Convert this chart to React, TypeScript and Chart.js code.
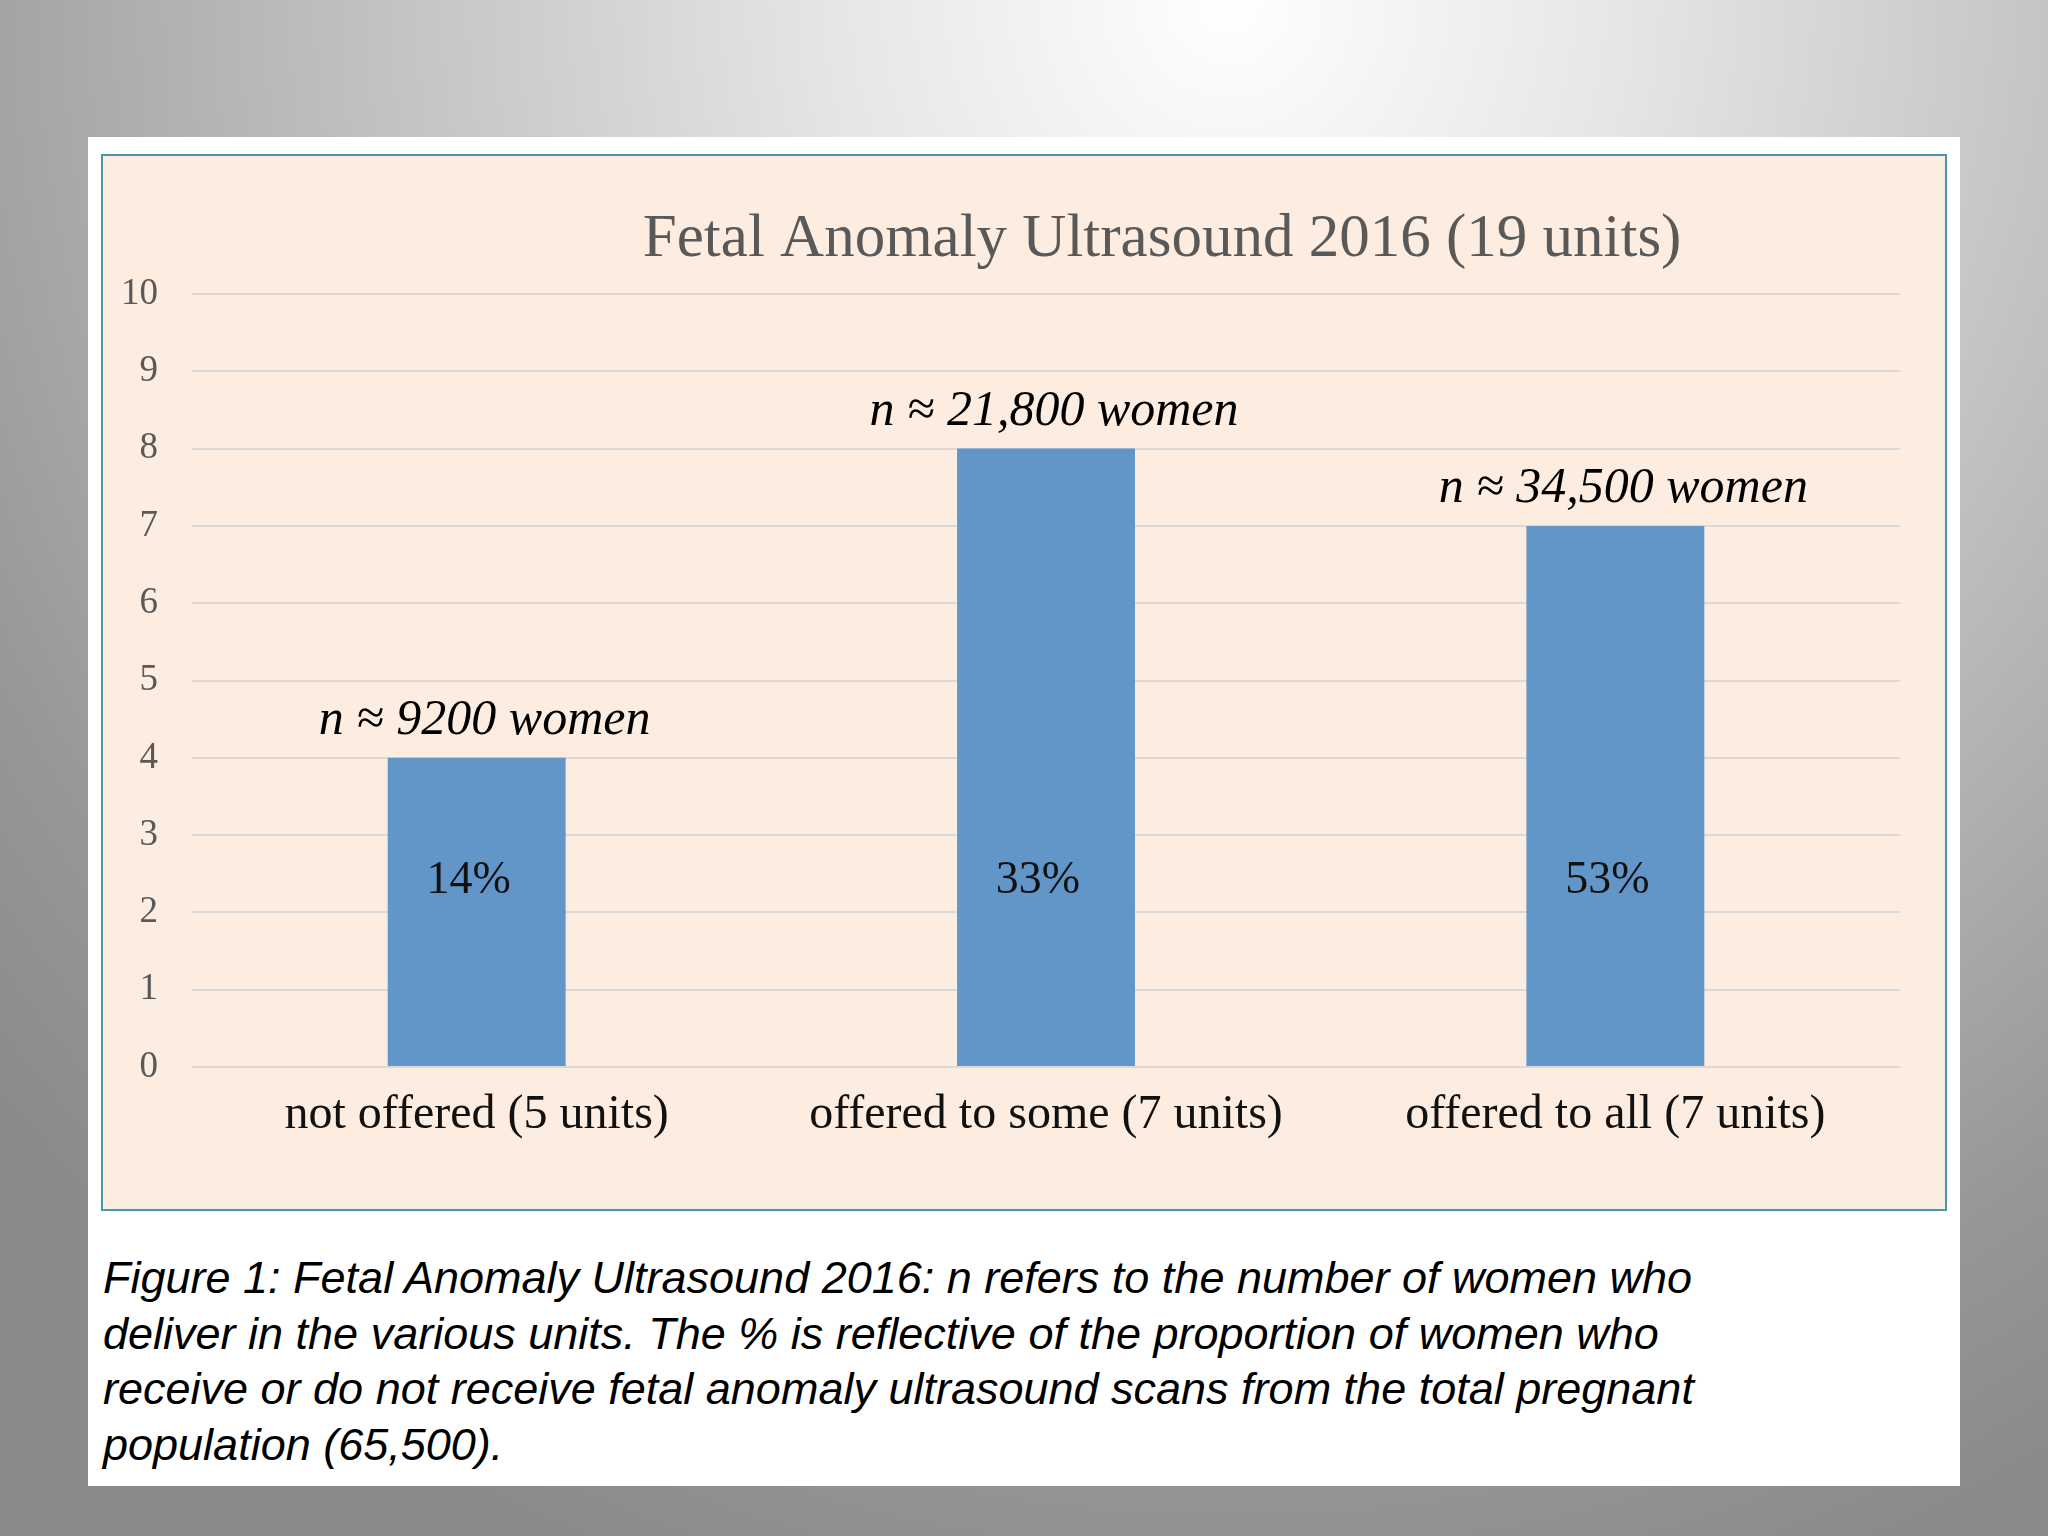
import React, { useEffect, useRef } from 'react';
import { Chart, registerables } from 'chart.js';

Chart.register(...registerables);

const chartTitle = 'Fetal Anomaly Ultrasound 2016 (19 units)';
const categories = ['not offered (5 units)', 'offered to some (7 units)', 'offered to all (7 units)'];
const unitCounts = [4, 8, 7];
const womenLabels = ['n ≈ 9200 women', 'n ≈ 21,800 women', 'n ≈ 34,500 women'];
const percentLabels = ['14%', '33%', '53%'];
const yMin = 0;
const yMax = 10;
const yStep = 1;
const captionLines = [
  'Figure 1: Fetal Anomaly Ultrasound 2016: n refers to the number of women who',
  'deliver in the various units. The % is reflective of the proportion of women who',
  'receive or do not receive fetal anomaly ultrasound scans from the total pregnant',
  'population (65,500).',
];

const SERIF = '"Liberation Serif", "DejaVu Serif", serif';
const SANS = '"Liberation Sans", Arial, sans-serif';

const annotatePlugin = {
  id: 'annotate',
  afterDatasetsDraw(chart: any) {
    const { ctx, chartArea } = chart;
    const meta = chart.getDatasetMeta(0);
    const yScale = chart.scales.y;
    ctx.save();
    ctx.textAlign = 'center';
    ctx.textBaseline = 'alphabetic';
    meta.data.forEach((bar: any, i: number) => {
      const { x, y } = bar.getProps(['x', 'y'], true);
      ctx.fillStyle = '#000000';
      ctx.font = `italic 50px ${SERIF}`;
      ctx.fillText(womenLabels[i], x + 8, y - 24);
      ctx.fillStyle = '#111111';
      ctx.font = `46px ${SERIF}`;
      ctx.fillText(percentLabels[i], x - 8, yScale.getPixelForValue(2.25));
    });
    ctx.fillStyle = '#595959';
    ctx.font = `61px ${SERIF}`;
    ctx.fillText(chartTitle, chartArea.left + chartArea.width * 0.568, chartArea.top - 38);
    ctx.restore();
  },
};

function FetalChart() {
  const ref = useRef<HTMLCanvasElement | null>(null);
  useEffect(() => {
    if (!ref.current) return;
    const chart = new Chart(ref.current, {
      type: 'bar',
      data: {
        labels: categories,
        datasets: [
          {
            data: unitCounts,
            backgroundColor: '#6296C9',
            borderWidth: 0,
            barPercentage: 0.3125,
            categoryPercentage: 1,
          },
        ],
      },
      options: {
        animation: false,
        responsive: false,
        devicePixelRatio: 1,
        layout: { padding: { top: 138, right: 45, left: 0, bottom: 0 } },
        plugins: {
          legend: { display: false },
          title: { display: false },
          tooltip: { enabled: false },
        },
        scales: {
          x: {
            grid: { display: false },
            border: { display: false },
            ticks: {
              color: '#111111',
              font: { family: SERIF, size: 48 },
              padding: 12,
              maxRotation: 0,
              autoSkip: false,
            },
            afterFit: (scale: any) => {
              scale.height = 142;
            },
          },
          y: {
            min: yMin,
            max: yMax,
            grid: { color: '#D9D9D9', lineWidth: 2, drawTicks: false },
            border: { display: false },
            ticks: {
              stepSize: yStep,
              color: '#595959',
              font: { family: SERIF, size: 37 },
              padding: 34,
            },
            afterFit: (scale: any) => {
              scale.width = 89;
            },
          },
        },
      },
      plugins: [annotatePlugin],
    });
    return () => chart.destroy();
  }, []);
  return <canvas ref={ref} width={1842} height={1053} style={{ display: 'block', width: 1842, height: 1053 }} />;
}

export default function App() {
  return (
    <div
      style={{
        position: 'absolute',
        left: 0,
        top: 0,
        width: 2048,
        height: 1536,
        overflow: 'hidden',
        background:
          'radial-gradient(ellipse 80% 110% at 60% 0%, #ffffff 0%, #e6e6e6 24%, #bebebe 55%, #979797 85%, #8a8a8a 100%)',
      }}
    >
      <div style={{ position: 'absolute', left: 88, top: 137, width: 1872, height: 1349, background: '#ffffff' }} />
      <div
        style={{
          position: 'absolute',
          left: 101,
          top: 154,
          width: 1842,
          height: 1053,
          border: '2px solid #4A98A6',
          background: '#FDEDE1',
        }}
      >
        <FetalChart />
      </div>
      <div
        style={{
          position: 'absolute',
          left: 103,
          top: 1250,
          fontFamily: SANS,
          fontStyle: 'italic',
          fontSize: 45,
          lineHeight: '55.5px',
          color: '#000000',
          whiteSpace: 'nowrap',
        }}
      >
        {captionLines.map((l, i) => (
          <div key={i}>{l}</div>
        ))}
      </div>
    </div>
  );
}
